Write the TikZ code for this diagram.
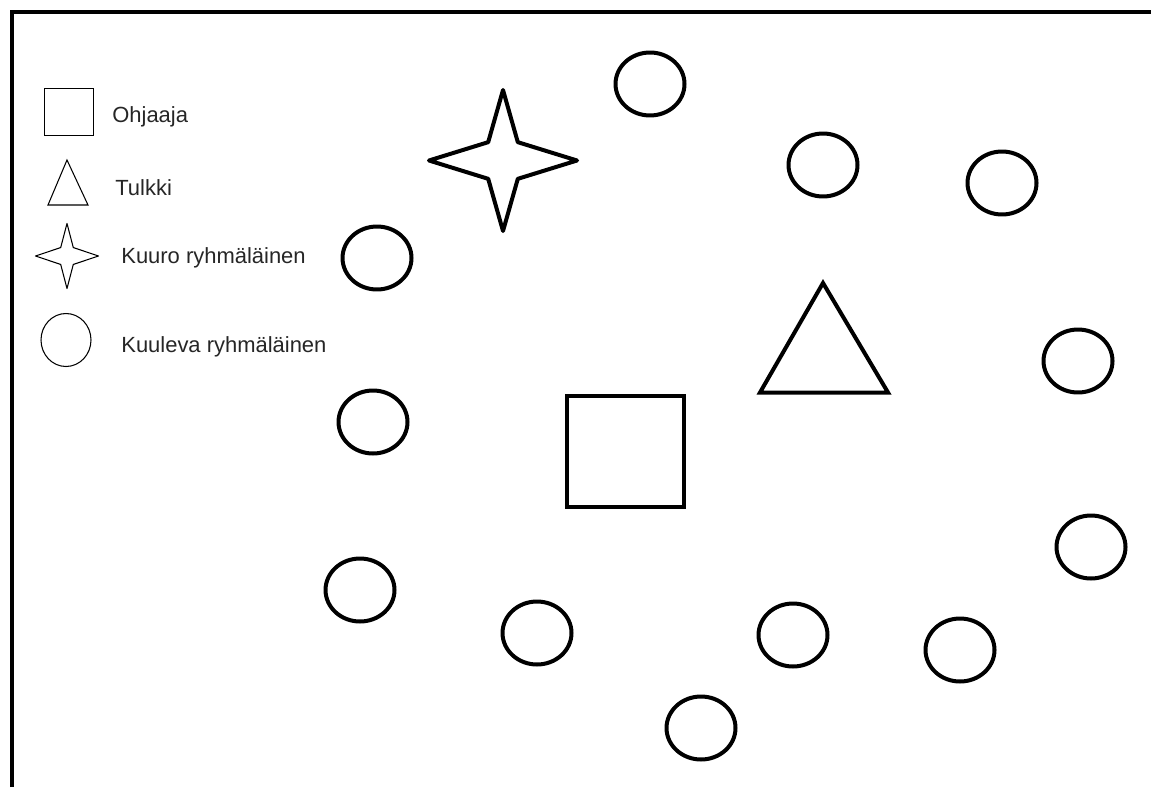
\documentclass[tikz,border=0pt]{standalone}
\usepackage{fontspec}
\setmainfont{Liberation Sans}
\usepackage{tikz}
\usetikzlibrary{shapes.geometric}
\tikzset{
  bold/.style    = {line width=0.08cm},
  thin/.style    = {line width=0.6pt},
  member/.style  = {draw, ellipse, bold, inner sep=0pt,
                    minimum width=1.38cm, minimum height=1.26cm},
  leader/.style  = {draw, rectangle, line width=0.09cm, inner sep=0pt,
                    minimum width=2.34cm, minimum height=2.22cm},
  keybox/.style  = {draw, rectangle, thin, inner sep=0pt,
                    minimum width=0.98cm, minimum height=0.94cm},
  keyring/.style = {draw, ellipse, thin, inner sep=0pt,
                    minimum width=1.0cm, minimum height=1.06cm},
  keytext/.style = {anchor=base west, inner sep=0pt, text=black!85,
                    font=\fontsize{12.5}{15}\selectfont},
}
% four-pointed star: centre x, centre y, half width, half height
\newcommand{\sparkle}[5][]{%
  \draw[line join=round, #1]
    (#2,{#3-#5}) -- ({#2+0.2*#4},{#3-0.26*#5}) -- ({#2+#4},#3)
    -- ({#2+0.2*#4},{#3+0.26*#5}) -- (#2,{#3+#5})
    -- ({#2-0.2*#4},{#3+0.26*#5}) -- ({#2-#4},#3)
    -- ({#2-0.2*#4},{#3-0.26*#5}) -- cycle;}

\begin{document}
\begin{tikzpicture}[x=0.02cm, y=-0.02cm]
\useasboundingbox (0,0) rectangle (1151,787);

% frame
\draw[bold] (12,787) -- (12,12.5) -- (1151,12.5);

% legend
\node[keybox] (keyleader) at (69,112) {};
\node[keytext] (txtleader) at (112,123) {Ohjaaja};
\draw[thin] (67,160) -- (88,205) -- (48,205) -- cycle;
\node[keytext] (txtinterp) at (115,195) {Tulkki};
\sparkle[thin]{67}{256}{31.5}{32.5}
\node[keytext] (txtdeaf) at (121,263) {Kuuro ryhmäläinen};
\node[keyring] (keyhearing) at (66,340) {};
\node[keytext] (txthearing) at (121,352) {Kuuleva ryhmäläinen};

% group
\node[leader] (leader) at (625.5,451.5) {};
\draw[bold] (823,283) -- (888,392.5) -- (760,392.5) -- cycle;
\sparkle[bold]{503}{160.5}{74}{70.5}

\node[member] (m1)  at (650,84)  {};
\node[member] (m2)  at (823,165) {};
\node[member] (m3)  at (1002,183) {};
\node[member] (m4)  at (377,258) {};
\node[member] (m5)  at (1078,361) {};
\node[member] (m6)  at (373,422) {};
\node[member] (m7)  at (1091,547) {};
\node[member] (m8)  at (360,590) {};
\node[member] (m9)  at (537,633) {};
\node[member] (m10) at (793,635) {};
\node[member] (m11) at (960,650) {};
\node[member] (m12) at (701,728) {};
\end{tikzpicture}
\end{document}
